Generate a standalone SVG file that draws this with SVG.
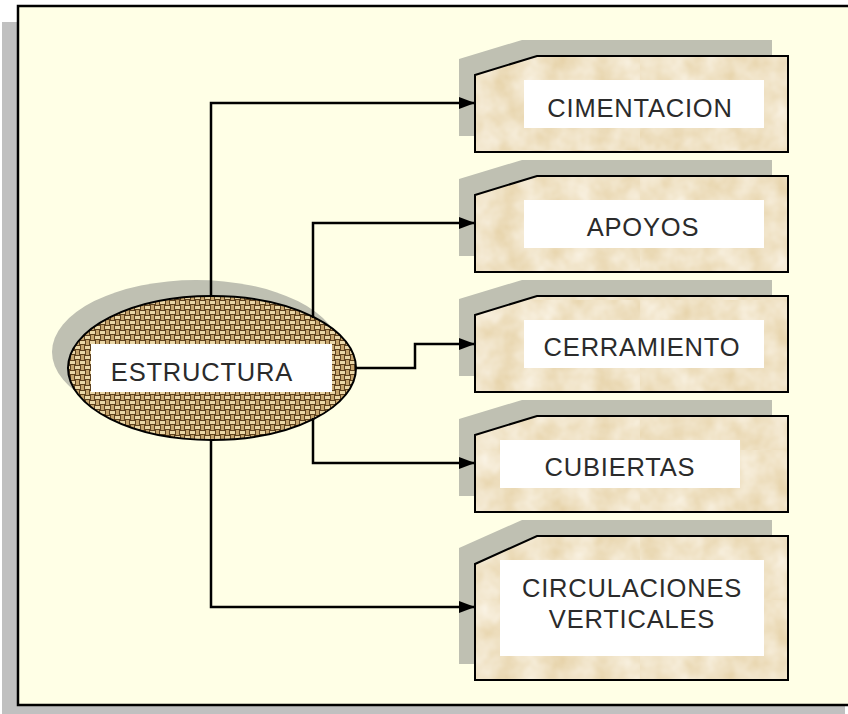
<svg xmlns="http://www.w3.org/2000/svg" width="848" height="714" viewBox="0 0 848 714">
<style>
.sh{fill:#bfc0b2;}
.box{fill:url(#parch);stroke:#000;stroke-width:2;}
.lbl{fill:#fff;}
.t{font-family:"Liberation Sans",Arial,sans-serif;font-size:25.5px;letter-spacing:0.8px;fill:#2b2b2b;text-anchor:middle;}
.c{fill:none;stroke:#000;stroke-width:2.5;}
</style>
<defs>
<pattern id="burlap" width="10" height="10" patternUnits="userSpaceOnUse">
<rect width="10" height="10" fill="#5e421f"/>
<rect x="0" y="1" width="5" height="3" fill="#ead6a6"/>
<rect x="5" y="6" width="5" height="3" fill="#ead6a6"/>
<rect x="6" y="0" width="3" height="5" fill="#c7a66f"/>
<rect x="1" y="5" width="3" height="5" fill="#c7a66f"/>
</pattern>
<filter id="blot" x="0" y="0" width="1" height="1">
<feTurbulence type="fractalNoise" baseFrequency="0.04" numOctaves="3" seed="4" result="n"/>
<feColorMatrix in="n" type="matrix" values="0 0 0 0 0.95  0 0 0 0 0.89  0 0 0 0 0.77  0 0 0 -1.2 1.1" result="c"/>
<feComposite in="c" in2="SourceGraphic" operator="in"/>
</filter>
<pattern id="parch" width="320" height="150" patternUnits="userSpaceOnUse">
<rect width="320" height="150" fill="#e6d2a8"/>
<rect width="320" height="150" fill="#f3e6cb" filter="url(#blot)"/>
</pattern>
<marker id="arr" markerWidth="16" markerHeight="12" refX="16" refY="6" orient="auto" markerUnits="userSpaceOnUse">
<path d="M0,0 L16,6 L0,12 Z" fill="#000"/>
</marker>
</defs>

<rect x="2" y="22" width="16" height="692" fill="#c0c0c0"/>
<rect x="2" y="706" width="843" height="8" fill="#c0c0c0"/>
<rect x="18" y="6" width="840" height="699" fill="#ffffe6" stroke="#000" stroke-width="2.5"/>

<g id="estructura">
<ellipse cx="196" cy="352" rx="144" ry="72" class="sh"/>
<ellipse cx="212" cy="368" rx="144" ry="72" fill="url(#burlap)" stroke="#000" stroke-width="2"/>
<rect class="lbl" x="91" y="344" width="241" height="48"/>
<text class="t" x="202" y="381">ESTRUCTURA</text>
</g>

<g id="cimentacion">
<polygon class="sh" points="459,59 522,40 772,40 772,136 459,136"/>
<polygon class="box" points="475,75 537,56 788,56 788,152 475,152"/>
<rect class="lbl" x="524" y="80" width="240" height="48"/>
<text class="t" x="640" y="117">CIMENTACION</text>
</g>

<g id="apoyos">
<polygon class="sh" points="459,179 522,160 772,160 772,256 459,256"/>
<polygon class="box" points="475,195 537,176 788,176 788,272 475,272"/>
<rect class="lbl" x="524" y="200" width="240" height="48"/>
<text class="t" x="643" y="236">APOYOS</text>
</g>

<g id="cerramiento">
<polygon class="sh" points="459,299 522,280 772,280 772,376 459,376"/>
<polygon class="box" points="475,315 537,296 788,296 788,392 475,392"/>
<rect class="lbl" x="524" y="320" width="240" height="48"/>
<text class="t" x="642" y="356">CERRAMIENTO</text>
</g>

<g id="cubiertas">
<polygon class="sh" points="459,419 522,400 772,400 772,496 459,496"/>
<polygon class="box" points="475,435 537,416 788,416 788,512 475,512"/>
<rect class="lbl" x="500" y="440" width="240" height="48"/>
<text class="t" x="620" y="476">CUBIERTAS</text>
</g>

<g id="circulaciones">
<polygon class="sh" points="459,548 522,520 772,520 772,664 459,664"/>
<polygon class="box" points="475,564 537,536 788,536 788,680 475,680"/>
<rect class="lbl" x="500" y="560" width="264" height="96"/>
<text class="t" x="632" y="597">CIRCULACIONES</text>
<text class="t" x="632" y="628">VERTICALES</text>
</g>

<g id="connectors">
<polyline class="c" points="211,297 211,103 475,103" marker-end="url(#arr)"/>
<polyline class="c" points="313,318 313,223 475,223" marker-end="url(#arr)"/>
<polyline class="c" points="356,368 415,368 415,344 475,344" marker-end="url(#arr)"/>
<polyline class="c" points="313,418 313,463 475,463" marker-end="url(#arr)"/>
<polyline class="c" points="211,439 211,607 475,607" marker-end="url(#arr)"/>
</g>
</svg>
